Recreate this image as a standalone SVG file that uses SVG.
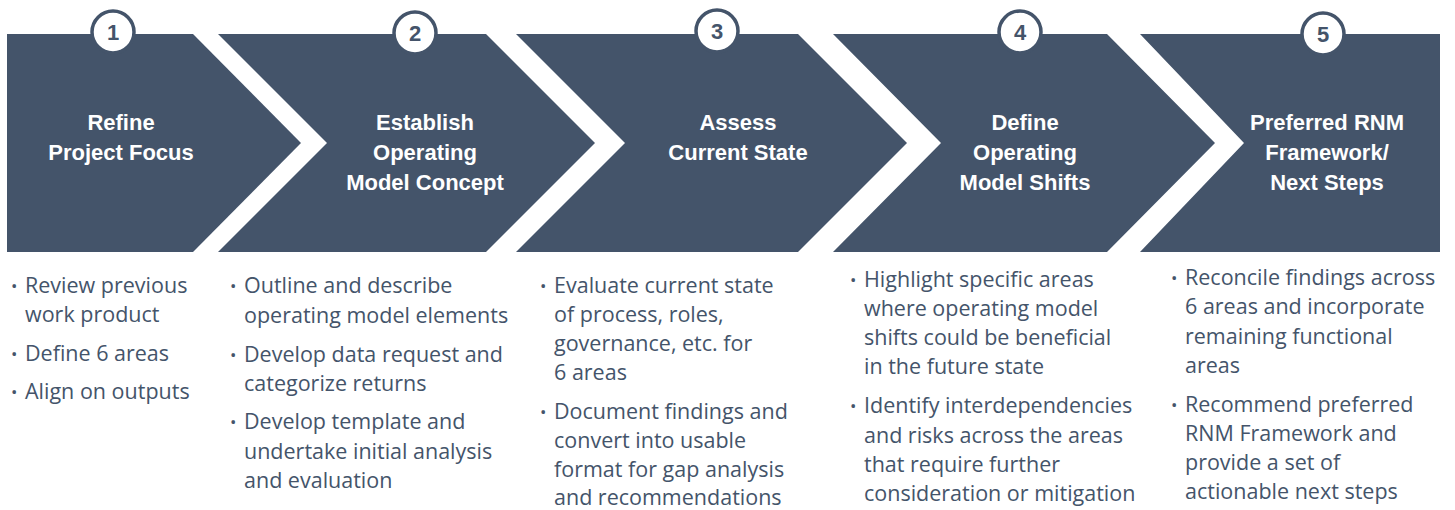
<svg xmlns="http://www.w3.org/2000/svg" width="1455" height="510" viewBox="0 0 1455 510">
<style>
.chev{fill:#44546A}
.num circle{fill:#FFFFFF;stroke:#44546A;stroke-width:3.5}
.num text{font-family:"Liberation Sans",Arial,sans-serif;font-weight:bold;font-size:22px;fill:#44546A;text-anchor:middle}
.title{font-family:"Liberation Sans",Arial,sans-serif;font-weight:bold;font-size:22px;fill:#FFFFFF;text-anchor:middle}
.body{font-family:"Open Sans",sans-serif;font-size:21.5px;fill:#44546A}
.bul{font-family:"Open Sans",sans-serif;font-size:17px;fill:#44546A}
</style>
<rect width="1455" height="510" fill="#FFFFFF"/>
<g id="connectors"></g>
<g id="step1">
<path class="chev" d="M7,34 L193,34 L301,143 L193,252 L7,252 Z"/>
<g class="num"><circle cx="113" cy="32" r="21"/><text x="113" y="40">1</text></g>
<text class="title" x="121" y="130">Refine</text>
<text class="title" x="121" y="160">Project Focus</text>
<text class="bul" x="11" y="292">•</text>
<text class="body" x="25" y="293">Review previous</text>
<text class="body" x="25" y="322">work product</text>
<text class="bul" x="11" y="360">•</text>
<text class="body" x="25" y="361">Define 6 areas</text>
<text class="bul" x="11" y="398">•</text>
<text class="body" x="25" y="399">Align on outputs</text>
</g>
<g id="step2">
<path class="chev" d="M218,34 L486,34 L595,143 L486,252 L218,252 L327,143 Z"/>
<g class="num"><circle cx="415" cy="33" r="21"/><text x="415" y="41">2</text></g>
<text class="title" x="425" y="130">Establish</text>
<text class="title" x="425" y="160">Operating</text>
<text class="title" x="425" y="190">Model Concept</text>
<text class="bul" x="230" y="292">•</text>
<text class="body" x="244" y="293">Outline and describe</text>
<text class="body" x="244" y="323">operating model elements</text>
<text class="bul" x="230" y="361">•</text>
<text class="body" x="244" y="362">Develop data request and</text>
<text class="body" x="244" y="391">categorize returns</text>
<text class="bul" x="230" y="428">•</text>
<text class="body" x="244" y="429">Develop template and</text>
<text class="body" x="244" y="459">undertake initial analysis</text>
<text class="body" x="244" y="488">and evaluation</text>
</g>
<g id="step3">
<path class="chev" d="M516,34 L798,34 L907,143 L798,252 L516,252 L625,143 Z"/>
<g class="num"><circle cx="717" cy="31" r="21"/><text x="717" y="39">3</text></g>
<text class="title" x="738" y="130">Assess</text>
<text class="title" x="738" y="160">Current State</text>
<text class="bul" x="540" y="292">•</text>
<text class="body" x="554" y="293">Evaluate current state</text>
<text class="body" x="554" y="322">of process, roles,</text>
<text class="body" x="554" y="351">governance, etc. for</text>
<text class="body" x="554" y="380">6 areas</text>
<text class="bul" x="540" y="418">•</text>
<text class="body" x="554" y="419">Document findings and</text>
<text class="body" x="554" y="448">convert into usable</text>
<text class="body" x="554" y="477">format for gap analysis</text>
<text class="body" x="554" y="505">and recommendations</text>
</g>
<g id="step4">
<path class="chev" d="M833,34 L1107,34 L1215,143 L1107,252 L833,252 L941,143 Z"/>
<g class="num"><circle cx="1020" cy="32" r="21"/><text x="1020" y="40">4</text></g>
<text class="title" x="1025" y="130">Define</text>
<text class="title" x="1025" y="160">Operating</text>
<text class="title" x="1025" y="190">Model Shifts</text>
<text class="bul" x="850" y="286">•</text>
<text class="body" x="864" y="287">Highlight specific areas</text>
<text class="body" x="864" y="316">where operating model</text>
<text class="body" x="864" y="345">shifts could be beneficial</text>
<text class="body" x="864" y="374">in the future state</text>
<text class="bul" x="850" y="412">•</text>
<text class="body" x="864" y="413">Identify interdependencies</text>
<text class="body" x="864" y="443">and risks across the areas</text>
<text class="body" x="864" y="472">that require further</text>
<text class="body" x="864" y="501">consideration or mitigation</text>
</g>
<g id="step5">
<path class="chev" d="M1140,34 L1440,34 L1440,252 L1140,252 L1244,143 Z"/>
<g class="num"><circle cx="1323" cy="34" r="21"/><text x="1323" y="42">5</text></g>
<text class="title" x="1327" y="130">Preferred RNM</text>
<text class="title" x="1327" y="160">Framework/</text>
<text class="title" x="1327" y="190">Next Steps</text>
<text class="bul" x="1171" y="284">•</text>
<text class="body" x="1185" y="285">Reconcile findings across</text>
<text class="body" x="1185" y="314">6 areas and incorporate</text>
<text class="body" x="1185" y="344">remaining functional</text>
<text class="body" x="1185" y="373">areas</text>
<text class="bul" x="1171" y="411">•</text>
<text class="body" x="1185" y="412">Recommend preferred</text>
<text class="body" x="1185" y="441">RNM Framework and</text>
<text class="body" x="1185" y="470">provide a set of</text>
<text class="body" x="1185" y="499">actionable next steps</text>
</g>
</svg>
